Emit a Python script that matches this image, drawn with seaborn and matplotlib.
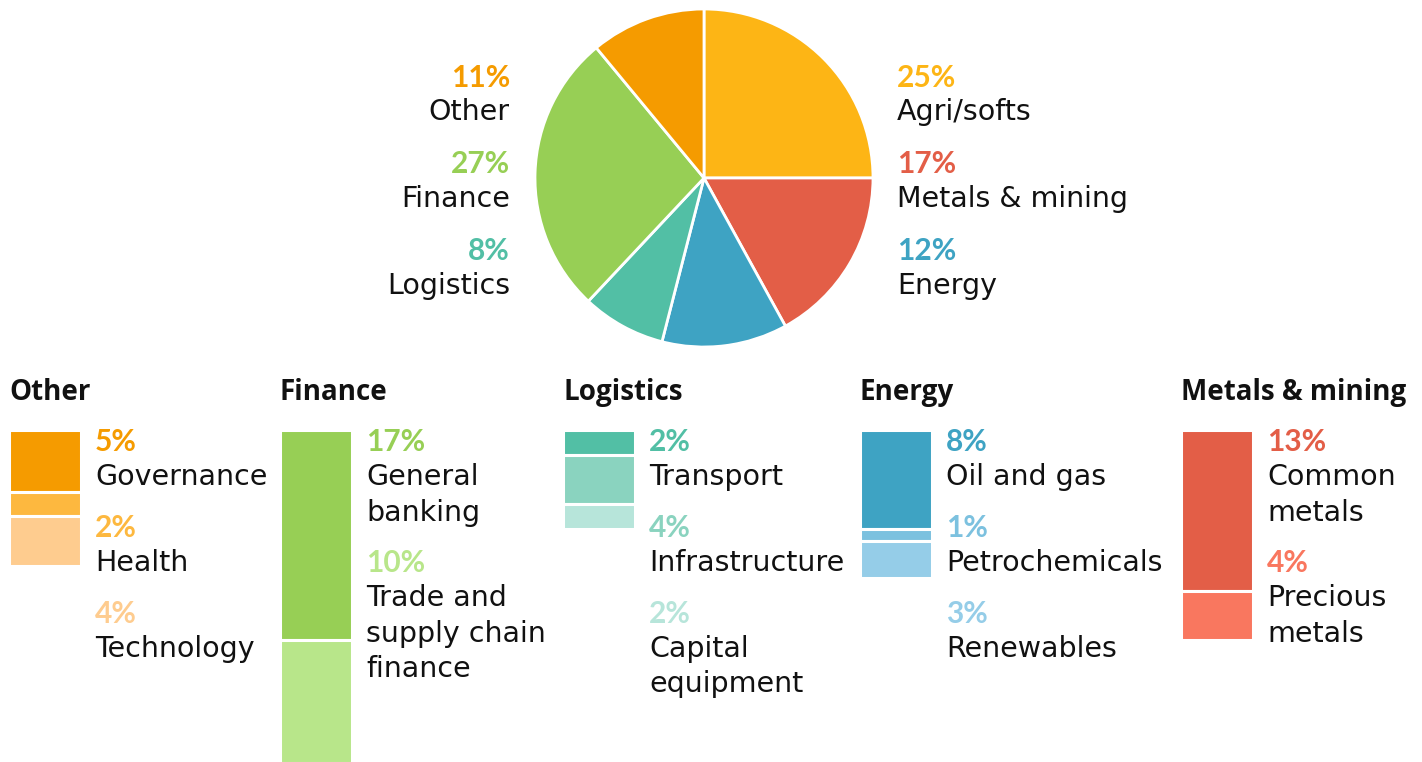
import matplotlib
matplotlib.use("Agg")
import matplotlib.pyplot as plt
import seaborn as sns

# ---------------- data ----------------
pie_labels = ["Agri/softs", "Metals & mining", "Energy", "Logistics", "Finance", "Other"]
pie_values = [25, 17, 12, 8, 27, 11]
pie_colors = ["#FDB515", "#E35E47", "#3EA3C3", "#52BFA5", "#97CF55", "#F59B00"]

group_names = ["Other", "Finance", "Logistics", "Energy", "Metals & mining"]

other_labels = ["Governance", "Health", "Technology"]
other_values = [5, 2, 4]
other_colors = ["#F59B00", "#FDB83F", "#FECC8F"]

finance_labels = ["General\nbanking", "Trade and\nsupply chain\nfinance"]
finance_values = [17, 10]
finance_colors = ["#97CF55", "#B8E68A"]

logistics_labels = ["Transport", "Infrastructure", "Capital\nequipment"]
logistics_values = [2, 4, 2]
logistics_colors = ["#52BFA5", "#8AD3BF", "#B7E5DA"]

energy_labels = ["Oil and gas", "Petrochemicals", "Renewables"]
energy_values = [8, 1, 3]
energy_colors = ["#3EA3C3", "#7CC1DF", "#95CDE8"]

metals_labels = ["Common\nmetals", "Precious\nmetals"]
metals_values = [13, 4]
metals_colors = ["#E35E47", "#F9775F"]

groups = [
    (other_labels, other_values, other_colors),
    (finance_labels, finance_values, finance_colors),
    (logistics_labels, logistics_values, logistics_colors),
    (energy_labels, energy_values, energy_colors),
    (metals_labels, metals_values, metals_colors),
]

# ---------------- layout ----------------
W, H = 1422, 762
sns.set_theme(style="white")
plt.rcParams["font.family"] = ["DejaVu Sans"]
TXT = "#111111"
FS = 20.5
HFS = 20
DY = 3  # vertical text offset

fig = plt.figure(figsize=(W / 100, H / 100), dpi=100)
fig.patch.set_facecolor("white")


def fx(x):
    return x / W


def fy(y):
    return 1 - (y + DY) / H


def add_ax(left, top, width, height):
    return fig.add_axes([left / W, 1 - (top + height) / H, width / W, height / H])


# ---------------- pie ----------------
pcx, pcy, pr = 704, 178, 169
pax = add_ax(pcx - pr, pcy - pr, 2 * pr, 2 * pr)
pax.pie(pie_values, colors=pie_colors, startangle=90, counterclock=False,
        wedgeprops=dict(edgecolor="white", linewidth=2))
pax.set_xlim(-1, 1)
pax.set_ylim(-1, 1)
pax.set_aspect("equal")
pax.axis("off")

pct_font = dict(family=["Lato", "DejaVu Sans"], weight="bold", fontsize=21.5)

right_items = [0, 1, 2]
left_items = [5, 4, 3]
rows_pct = [75, 161, 248]
rows_lab = [109, 196, 283]
for k, i in enumerate(right_items):
    fig.text(fx(897), fy(rows_pct[k]), f"{pie_values[i]}%", color=pie_colors[i],
             ha="left", va="center", **pct_font)
    fig.text(fx(897), fy(rows_lab[k]), pie_labels[i], color=TXT, ha="left",
             va="center", fontsize=FS)
for k, i in enumerate(left_items):
    fig.text(fx(510), fy(rows_pct[k]), f"{pie_values[i]}%", color=pie_colors[i],
             ha="right", va="center", **pct_font)
    fig.text(fx(510), fy(rows_lab[k]), pie_labels[i], color=TXT, ha="right",
             va="center", fontsize=FS)

# ---------------- stacked bars ----------------
bar_lefts = [9, 280, 563, 860, 1181]
bar_w = 72
bar_top = 430
ymax = 27.2
px_per = 12.35
for gname, left, (labs, vals, cols) in zip(group_names, bar_lefts, groups):
    ax = add_ax(left, bar_top, bar_w, ymax * px_per)
    cum = 0
    for v, c in zip(vals, cols):
        sns.barplot(x=[gname], y=[v], bottom=cum, color=c, width=0.8, ax=ax,
                    edgecolor="white", linewidth=2.2, saturation=1)
        cum += v
    ax.set_xlim(-0.4, 0.4)
    ax.set_ylim(ymax, 0)
    ax.axis("off")

    # heading
    fig.text(fx(left), fy(389), gname, color=TXT, ha="left", va="center",
             family=["Open Sans", "DejaVu Sans"], weight="bold", fontsize=HFS)
    # labels
    tx = left + bar_w + 14
    y = 439
    for lab, v, c in zip(labs, vals, cols):
        fig.text(fx(tx), fy(y), f"{v}%", color=c, ha="left", va="center", **pct_font)
        for line in lab.split("\n"):
            y += 35.3
            fig.text(fx(tx), fy(y), line, color=TXT, ha="left", va="center", fontsize=FS)
        y += 50.5

fig.savefig("out.png", dpi=100, facecolor="white")
